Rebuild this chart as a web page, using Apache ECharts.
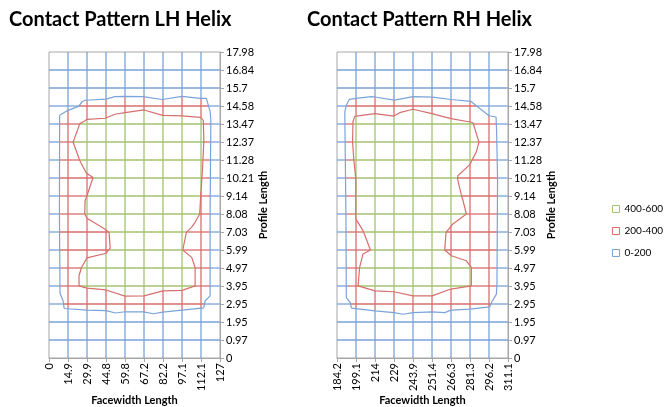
<!DOCTYPE html>
<html>
<head>
<meta charset="utf-8">
<script src="https://cdn.jsdelivr.net/npm/echarts@6/dist/echarts.min.js"></script>
<style>
html,body{margin:0;padding:0;background:#fff;}
#chart{width:664px;height:407px;}
</style>
</head>
<body>
<div id="chart"></div>
<script>
// ---- data ----
const xLabelsLH = ['0','14.9','29.9','44.8','59.8','67.2','82.2','97.1','112.1','127'];
const xLabelsRH = ['184.2','199.1','214','229','243.9','251.4','266.3','281.3','296.2','311.1'];
const yLabels = ['0','0.97','1.95','2.95','3.95','4.97','5.99','7.03','8.08','9.14','10.21','11.28','12.37','13.47','14.58','15.7','16.84','17.98'];
const bands = ['400-600','200-400','0-200'];

// contour polylines, in grid-index units [facewidth index, profile index]
const lhOuter = [[0.56,13.48],[1.0,13.76],[1.55,13.98],[1.76,14.25],[1.9,14.32],[3.0,14.38],[3.47,14.52],[4.0,14.54],[4.96,14.52],[5.95,14.36],[7.0,14.53],[7.95,14.42],[8.28,14.42],[8.48,13.7],[8.52,13.2],[8.5,11],[8.48,8],[8.48,3.45],[8.22,3.18],[8.14,2.79],[7.0,2.66],[5.98,2.55],[5.5,2.46],[4.97,2.56],[4.0,2.57],[3.5,2.5],[3.0,2.63],[1.97,2.66],[0.8,2.75],[0.74,3.18],[0.58,3.6],[0.55,8],[0.56,13.48]];
const lhInner = [[1.62,13.02],[1.88,13.17],[2.0,13.26],[2.96,13.32],[3.47,13.54],[4.0,13.63],[5.0,13.78],[5.98,13.48],[7.0,13.45],[7.97,13.37],[8.12,13.2],[8.15,12.09],[8.08,10.5],[7.98,8.93],[7.93,8.0],[7.69,7.54],[7.5,7.26],[7.23,6.98],[7.04,6.0],[7.51,5.59],[7.69,5.03],[7.69,4.01],[7.0,3.76],[6.0,3.73],[5.0,3.45],[4.0,3.44],[3.0,3.78],[2.0,3.88],[1.58,4.01],[1.58,4.57],[1.71,5.03],[2.0,5.56],[3.0,5.82],[3.22,6.1],[3.16,6.98],[3.0,7.12],[2.0,7.76],[1.88,8.0],[1.9,8.75],[1.97,8.93],[2.32,10.03],[1.96,10.28],[1.62,10.97],[1.27,11.99],[1.62,13.02]];
const rhOuter = [[0.41,13.67],[0.49,14.04],[0.65,14.37],[1.0,14.42],[1.81,14.52],[2.0,14.5],[3.02,14.33],[4.0,14.52],[5.02,14.49],[6.01,14.36],[7.04,14.26],[7.25,14.08],[8.0,13.46],[8.37,13.39],[8.4,12.6],[8.45,10],[8.42,4.1],[8.39,3.55],[8.13,3.08],[8.04,2.84],[7.0,2.71],[6.0,2.66],[5.67,2.52],[5.0,2.56],[4.0,2.52],[3.47,2.43],[3.0,2.52],[2.0,2.62],[0.76,2.77],[0.7,3.08],[0.49,3.36],[0.47,8],[0.41,13.67]];
const rhInner = [[0.93,13.42],[1.0,13.5],[2.0,13.58],[3.0,13.44],[3.3,13.63],[4.0,13.82],[5.0,13.58],[6.0,13.3],[7.0,13.11],[7.16,13.07],[7.47,11.99],[7.33,11.44],[6.98,10.73],[6.37,10.14],[6.34,9.96],[6.55,9.03],[6.63,8.75],[6.81,8.0],[6.1,7.45],[5.74,6.98],[5.67,6.0],[6.02,5.68],[6.81,5.4],[7.07,5.03],[7.07,4.01],[6.0,3.83],[5.0,3.45],[4.0,3.45],[3.0,3.68],[2.0,3.73],[1.11,4.01],[1.19,5.03],[1.37,5.78],[1.76,6.0],[1.37,7.08],[0.99,7.73],[0.99,9.96],[0.88,11.07],[0.82,12.0],[0.84,13.11],[0.93,13.42]];

// ---- styles ----
const bandColors = ['#a4c370','#d66f6c','#7aa3d9'];
const FONT = 'Lato';
const GREY = '#a6a6a6';

// ---- helpers: split mesh lines by contour bands ----
function crossings(poly, vertical, c){
  const res=[];
  for(let k=0;k<poly.length-1;k++){
    const p=poly[k], q=poly[k+1];
    const a = vertical?p[0]:p[1], b = vertical?q[0]:q[1];
    if((a>c)!==(b>c)){
      const t=(c-a)/(b-a);
      res.push(vertical ? p[1]+t*(q[1]-p[1]) : p[0]+t*(q[0]-p[0]));
    }
  }
  return res;
}
function inside(poly,x,y){
  let ins=false;
  for(let k=0,l=poly.length-1;k<poly.length;l=k++){
    const xi=poly[k][0],yi=poly[k][1],xj=poly[l][0],yj=poly[l][1];
    if(((yi>y)!==(yj>y)) && (x < (xj-xi)*(y-yi)/(yj-yi)+xi)) ins=!ins;
  }
  return ins;
}
function meshSegments(outer, inner, nx, ny){
  const segs=[[],[],[]];
  const handle=(vertical,c,len)=>{
    const cuts=[0,len].concat(crossings(outer,vertical,c),crossings(inner,vertical,c)).sort((a,b)=>a-b);
    for(let k=0;k<cuts.length-1;k++){
      const a=cuts[k], b=cuts[k+1];
      if(b-a<1e-9) continue;
      const m=(a+b)/2;
      const px=vertical?c:m, py=vertical?m:c;
      const band = inside(inner,px,py)?0:(inside(outer,px,py)?1:2);
      segs[band].push(vertical?[c,a,c,b]:[a,c,b,c]);
    }
  };
  for(let i=1;i<nx;i++) handle(true,i,ny);
  for(let j=1;j<ny;j++) handle(false,j,nx);
  return segs;
}

const nx = xLabelsLH.length-1, ny = yLabels.length-1;
const panels = [
  {xl:xLabelsLH, outer:lhOuter, inner:lhInner},
  {xl:xLabelsRH, outer:rhOuter, inner:rhInner}
];

const grids=[
  {left:49, top:52, width:171, height:306, show:true, borderColor:GREY, borderWidth:1, outerBoundsMode:'none', containLabel:false},
  {left:337, top:52, width:171, height:306, show:true, borderColor:GREY, borderWidth:1, outerBoundsMode:'none', containLabel:false}
];
const xAxes=[], yAxes=[], series=[];
panels.forEach((p,g)=>{
  xAxes.push({gridIndex:g, type:'value', min:0, max:nx, interval:1,
    axisLine:{show:true,onZero:false,lineStyle:{color:GREY}},
    axisTick:{show:true,length:4,lineStyle:{color:GREY}},
    splitLine:{show:false}, minorSplitLine:{show:false},
    axisLabel:{rotate:90, margin:5, fontSize:11, color:'#000', fontFamily:FONT, formatter:v=>p.xl[v]},
    name:'Facewidth Length', nameLocation:'middle', nameGap:37, nameMoveOverlap:false,
    nameTextStyle:{fontWeight:'bold', fontSize:11, color:'#000', fontFamily:FONT, verticalAlign:'top'}});
  yAxes.push({gridIndex:g, type:'value', position:'right', min:0, max:ny, interval:1,
    axisLine:{show:true,onZero:false,lineStyle:{color:GREY}},
    axisTick:{show:true,length:4,lineStyle:{color:GREY}},
    splitLine:{show:false}, minorSplitLine:{show:false},
    axisLabel:{margin:6, fontSize:11, color:'#000', fontFamily:FONT, formatter:v=>yLabels[v]},
    name:'Profile Length', nameLocation:'middle', nameRotate:90, nameGap:38,
    nameTextStyle:{fontWeight:'bold', fontSize:11, color:'#000', fontFamily:FONT}});
  const segs = meshSegments(p.outer,p.inner,nx,ny);
  segs.forEach((s,b)=>{
    const col = bandColors[b];
    series.push({type:'custom', name:bands[b], xAxisIndex:g, yAxisIndex:g, silent:true, z:2,
      itemStyle:{color:col},
      encode:{x:[0,2], y:[1,3]},
      data:s,
      renderItem:(params, api)=>{
        const p1=api.coord([api.value(0),api.value(1)]);
        const p2=api.coord([api.value(2),api.value(3)]);
        return {type:'line', shape:{x1:p1[0],y1:p1[1],x2:p2[0],y2:p2[1]}, style:{stroke:col, lineWidth:1.3, fill:null}};
      }});
  });
  series.push({type:'line', name:'outer'+g, xAxisIndex:g, yAxisIndex:g, data:p.outer, symbol:'none', silent:true, z:3,
    lineStyle:{color:bandColors[2], width:1.2}});
  series.push({type:'line', name:'inner'+g, xAxisIndex:g, yAxisIndex:g, data:p.inner, symbol:'none', silent:true, z:3,
    lineStyle:{color:bandColors[1], width:1.2}});
});

const chart = echarts.init(document.getElementById('chart'), null, {renderer:'canvas'});
chart.setOption({
  animation:false,
  backgroundColor:'#fff',
  title:[
    {text:'Contact Pattern LH Helix', left:9, top:10, padding:0, textStyle:{fontFamily:FONT, fontWeight:'bold', fontSize:20, color:'#000'}},
    {text:'Contact Pattern RH Helix', left:307, top:10, padding:0, textStyle:{fontFamily:FONT, fontWeight:'bold', fontSize:20, color:'#000'}}
  ],
  legend:{orient:'vertical', left:612, top:204, padding:0, itemWidth:7, itemHeight:7, itemGap:12,
    textStyle:{fontSize:10, color:'#000', fontFamily:FONT, overflow:'none'},
    data:bands.map((b,k)=>({name:b, icon:'rect', itemStyle:{color:'#fff', borderColor:bandColors[k], borderWidth:1}}))},
  grid:grids, xAxis:xAxes, yAxis:yAxes, series:series
});
</script>
</body>
</html>
